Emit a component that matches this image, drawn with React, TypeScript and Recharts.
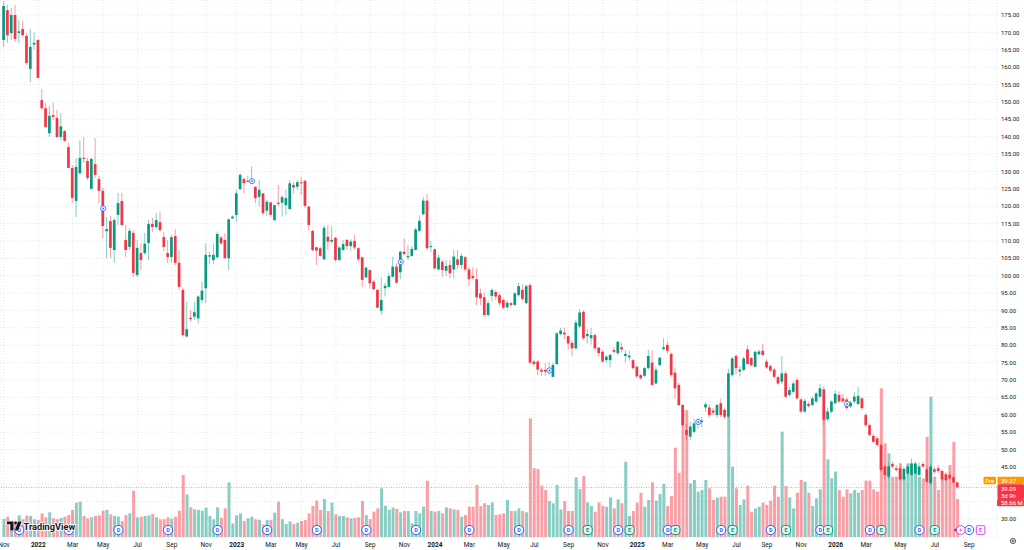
import React from 'react';
import { ComposedChart, Bar, XAxis, YAxis, CartesianGrid, ReferenceLine, Scatter } from 'recharts';

// ---- data (weekly candles, first bar = week of 1 Nov 2021) ----
const openP = [
  167.8, 176.4, 169.8, 175.0, 169.8, 171.0, 169.0, 159.5, 166.5, 167.8,
  150.5, 148.2, 141.0, 146.2, 145.4, 139.9, 141.6, 137.0, 131.0, 121.5,
  129.5, 133.9, 133.0, 125.0, 132.1, 127.8, 124.4, 112.8, 115.7, 107.4,
  117.5, 121.5, 110.3, 108.3, 112.3, 100.2, 106.5, 106.5, 109.4, 114.9,
  114.0, 115.4, 111.1, 106.5, 105.4, 111.4, 103.7, 95.9, 82.5, 87.9,
  88.2, 87.7, 93.0, 96.4, 105.5, 104.5, 105.3, 111.0, 110.3, 105.0,
  116.5, 117.5, 124.9, 127.8, 127.0, 126.9, 125.6, 122.7, 123.7, 118.7,
  121.1, 116.0, 121.0, 121.0, 120.3, 119.2, 126.1, 125.6, 126.9, 127.3,
  119.9, 112.9, 108.2, 107.9, 104.7, 111.2, 109.8, 110.9, 104.5, 107.4,
  110.3, 108.5, 110.0, 107.9, 105.3, 99.5, 101.6, 98.3, 95.9, 89.9,
  96.4, 96.8, 99.7, 102.6, 101.0, 106.9, 105.3, 105.7, 107.4, 112.9,
  117.7, 121.6, 108.2, 107.6, 101.8, 104.0, 101.4, 103.1, 101.8, 104.7,
  103.1, 105.3, 101.8, 99.9, 99.0, 94.9, 93.8, 88.7, 94.2, 95.3,
  94.4, 93.0, 90.9, 92.1, 91.6, 94.4, 95.9, 92.1, 97.3, 75.3,
  75.3, 72.9, 72.9, 72.5, 70.9, 74.6, 83.2, 83.6, 82.6, 80.7,
  79.1, 85.4, 89.6, 82.6, 82.0, 82.9, 79.3, 78.1, 75.7, 75.7,
  78.6, 77.7, 79.4, 76.9, 76.5, 75.7, 73.8, 71.4, 71.2, 73.4,
  75.0, 69.0, 74.3, 78.9, 80.1, 77.5, 72.1, 68.6, 62.8, 55.6,
  53.7, 55.1, 57.8, 57.9, 62.1, 62.1, 61.2, 59.9, 63.3, 61.4,
  59.4, 71.4, 76.9, 72.4, 72.9, 78.8, 76.3, 73.8, 77.4, 78.4,
  75.3, 74.0, 73.0, 70.8, 69.5, 71.9, 65.7, 66.6, 70.0, 64.4,
  60.9, 63.1, 62.8, 63.8, 65.2, 67.3, 58.7, 60.9, 63.3, 65.7,
  64.7, 64.4, 62.4, 63.8, 63.1, 64.7, 59.9, 57.0, 53.9, 53.2,
  51.3, 45.1, 42.2, 45.8, 44.6, 44.6, 41.4, 43.1, 42.7, 43.1,
  42.7, 45.8, 44.3, 40.3, 44.3, 44.6, 43.8, 42.9, 42.7, 42.0,
  40.5,
];
const highP = [
  179.0, 177.9, 177.0, 177.9, 173.6, 173.3, 169.8, 171.0, 170.0, 168.1,
  153.7, 149.7, 148.8, 149.7, 147.7, 146.8, 141.9, 138.2, 131.8, 133.9,
  139.0, 139.9, 133.9, 133.9, 139.6, 128.7, 125.3, 116.9, 117.2, 116.6,
  123.8, 123.8, 114.6, 113.7, 113.1, 110.3, 109.4, 112.3, 116.0, 116.6,
  118.0, 118.3, 112.6, 110.3, 111.7, 113.4, 107.4, 96.5, 92.5, 90.1,
  92.5, 94.4, 98.3, 109.3, 106.9, 109.3, 112.7, 111.4, 112.2, 116.5,
  117.3, 124.7, 129.5, 128.3, 128.8, 131.4, 125.6, 127.5, 123.7, 121.8,
  121.1, 120.5, 126.1, 123.2, 124.7, 127.5, 127.0, 127.5, 128.5, 127.5,
  119.9, 113.1, 108.3, 108.3, 114.6, 114.6, 114.2, 111.2, 108.5, 110.3,
  110.5, 110.5, 111.7, 108.2, 105.5, 102.6, 101.8, 98.8, 96.1, 99.5,
  98.0, 100.9, 105.5, 103.6, 107.2, 110.7, 108.8, 108.5, 113.8, 117.3,
  122.7, 123.5, 109.9, 107.8, 106.0, 104.5, 104.5, 104.5, 107.4, 107.4,
  106.5, 105.7, 102.4, 102.4, 102.1, 96.3, 95.1, 92.9, 96.3, 95.9,
  95.1, 93.5, 93.0, 92.5, 95.3, 98.0, 97.5, 97.5, 97.8, 75.6,
  75.8, 73.5, 75.0, 75.0, 75.0, 83.8, 85.0, 85.1, 82.9, 81.4,
  87.3, 90.4, 90.0, 84.7, 85.0, 83.4, 79.5, 78.6, 77.2, 77.6,
  79.5, 81.2, 80.8, 78.6, 78.4, 76.0, 74.2, 71.8, 73.8, 78.7,
  78.5, 73.8, 76.7, 82.0, 81.2, 78.0, 73.5, 69.2, 63.0, 57.5,
  57.9, 58.8, 59.0, 59.3, 63.5, 63.0, 62.0, 63.2, 64.6, 62.0,
  73.2, 76.7, 77.4, 74.0, 76.7, 79.9, 76.6, 78.5, 78.8, 80.4,
  76.0, 74.5, 73.5, 71.2, 76.9, 72.5, 68.0, 69.6, 70.6, 64.8,
  64.6, 63.6, 65.2, 66.6, 68.9, 68.2, 62.0, 64.1, 67.0, 66.7,
  66.0, 65.0, 64.0, 66.5, 68.0, 65.2, 60.5, 57.5, 54.5, 53.8,
  51.8, 45.5, 46.0, 46.5, 45.5, 45.0, 45.0, 45.6, 47.4, 46.5,
  46.2, 46.5, 45.1, 46.0, 45.0, 45.5, 44.3, 43.5, 43.4, 42.5,
  40.8,
];
const lowP = [
  165.8, 167.0, 167.8, 167.2, 167.0, 168.7, 160.6, 155.7, 165.0, 156.9,
  147.7, 142.5, 140.0, 144.8, 139.6, 139.0, 138.5, 131.0, 120.9, 116.9,
  129.0, 132.4, 127.5, 124.7, 128.1, 120.9, 110.8, 105.0, 105.0, 103.7,
  114.6, 114.3, 105.4, 107.4, 99.6, 99.6, 101.6, 106.0, 104.5, 112.6,
  113.4, 112.6, 107.1, 103.7, 103.7, 103.1, 95.9, 82.5, 82.2, 86.8,
  87.3, 86.3, 92.1, 92.1, 103.3, 103.3, 105.0, 108.8, 105.0, 101.6,
  116.3, 115.5, 124.7, 123.7, 126.9, 126.5, 120.8, 119.9, 117.5, 117.2,
  117.0, 115.7, 119.9, 117.0, 117.5, 118.9, 123.7, 124.7, 123.2, 119.4,
  113.1, 106.9, 103.1, 105.5, 104.5, 107.4, 109.3, 104.0, 104.2, 107.1,
  107.4, 107.1, 107.4, 104.0, 96.8, 99.3, 96.4, 95.9, 90.6, 88.7,
  94.0, 96.4, 99.5, 97.8, 99.0, 106.0, 104.5, 105.5, 107.2, 112.6,
  117.3, 107.4, 106.8, 101.9, 101.5, 99.7, 99.9, 99.3, 99.3, 101.9,
  101.9, 101.2, 97.0, 98.8, 91.6, 91.6, 88.2, 88.2, 92.6, 93.0,
  91.3, 90.3, 90.5, 91.0, 91.2, 94.0, 92.8, 91.8, 74.5, 74.0,
  71.4, 71.2, 71.2, 71.5, 70.9, 74.3, 82.8, 81.8, 78.8, 76.8,
  78.9, 84.9, 81.5, 80.4, 80.2, 78.6, 76.8, 75.0, 75.0, 73.6,
  77.6, 77.2, 77.9, 75.0, 75.5, 73.0, 70.5, 70.0, 70.9, 73.0,
  68.3, 68.7, 73.8, 78.6, 77.6, 71.0, 64.7, 62.5, 56.5, 52.7,
  52.6, 54.6, 56.0, 56.4, 60.8, 59.2, 59.9, 59.2, 59.2, 58.8,
  59.0, 70.9, 71.6, 71.0, 72.4, 74.3, 73.8, 73.5, 77.0, 76.9,
  73.2, 72.2, 70.5, 68.6, 68.8, 64.8, 65.2, 66.1, 64.3, 60.4,
  60.5, 62.0, 62.4, 63.3, 64.8, 57.0, 58.1, 60.5, 63.0, 63.3,
  63.5, 61.5, 62.0, 63.3, 62.7, 61.4, 56.5, 53.8, 51.8, 50.8,
  43.5, 41.5, 41.5, 44.5, 43.6, 41.0, 41.0, 42.5, 42.4, 42.8,
  42.4, 44.7, 40.2, 39.8, 43.0, 43.3, 41.0, 40.8, 41.3, 40.2,
  38.8,
];
const closeP = [
  177.6, 169.2, 175.0, 168.1, 170.3, 169.2, 161.2, 165.8, 167.0, 156.9,
  148.2, 142.8, 146.0, 145.7, 139.9, 143.0, 138.8, 131.0, 122.4, 131.3,
  133.9, 133.6, 128.1, 133.6, 129.0, 124.4, 114.3, 113.4, 108.0, 116.0,
  120.9, 114.6, 107.4, 112.9, 100.8, 108.0, 104.5, 109.2, 114.9, 114.0,
  116.0, 113.1, 108.3, 105.4, 111.1, 103.7, 96.8, 82.9, 84.6, 87.5,
  89.5, 94.0, 95.7, 106.0, 105.9, 106.0, 112.0, 109.3, 105.0, 116.2,
  117.0, 123.7, 129.0, 126.6, 127.3, 127.5, 122.3, 124.7, 118.0, 121.3,
  117.5, 120.3, 120.6, 122.6, 122.3, 126.6, 125.4, 126.9, 126.6, 120.1,
  114.6, 107.4, 107.2, 105.7, 113.8, 109.8, 110.3, 104.5, 108.1, 109.1,
  108.5, 109.8, 108.1, 104.7, 98.8, 102.3, 97.8, 96.1, 90.8, 93.0,
  97.1, 99.9, 102.6, 98.0, 106.9, 106.2, 105.7, 107.7, 113.3, 115.8,
  121.6, 107.9, 108.5, 102.1, 105.2, 101.6, 102.8, 100.7, 105.5, 103.1,
  105.7, 101.8, 99.0, 99.3, 93.8, 93.5, 88.7, 92.1, 95.9, 94.0,
  92.1, 90.8, 92.2, 91.6, 94.9, 97.0, 93.3, 97.0, 75.0, 74.6,
  73.0, 72.4, 72.4, 73.0, 74.3, 83.4, 84.2, 83.1, 80.5, 79.1,
  86.5, 89.4, 82.0, 83.2, 82.9, 79.1, 77.7, 75.3, 76.7, 77.2,
  78.1, 81.0, 78.8, 77.5, 77.0, 73.4, 71.0, 70.5, 73.4, 76.9,
  68.6, 72.9, 76.4, 79.4, 78.4, 71.4, 67.6, 62.8, 57.0, 54.2,
  56.6, 57.5, 58.0, 58.3, 63.0, 59.9, 60.6, 62.8, 59.9, 59.4,
  71.9, 76.2, 73.4, 73.0, 76.2, 74.6, 74.3, 78.1, 78.2, 77.2,
  73.6, 72.7, 70.9, 69.0, 71.9, 65.2, 67.1, 69.0, 64.7, 60.9,
  64.0, 62.5, 64.7, 66.1, 67.6, 58.5, 60.9, 63.8, 66.0, 63.8,
  63.8, 61.9, 63.5, 65.2, 65.4, 61.9, 57.0, 54.2, 52.2, 51.3,
  44.1, 42.7, 45.1, 45.1, 44.1, 41.4, 44.4, 45.1, 46.0, 46.0,
  45.1, 45.1, 40.7, 45.1, 43.6, 43.8, 41.4, 41.2, 41.7, 40.5,
  39.09,
];
// volume in millions
const volumeM = [
  27.8, 31.4, 25, 24, 33.4, 27.3, 32.9, 32.4, 27.3, 26.2,
  36.5, 30.3, 38.1, 28.8, 27.3, 29.3, 31.4, 33.9, 41.7, 53,
  54.5, 32.4, 28.8, 30.3, 32.4, 33.4, 40.6, 41.7, 34.9, 32.4,
  31.4, 24.7, 33.9, 36.5, 71.5, 30.3, 31.4, 32.4, 33.4, 35.5,
  30.3, 27.3, 27.3, 30.3, 28.3, 31.4, 40.6, 95.7, 65.8, 45.8,
  42.7, 41.7, 40.6, 45.3, 32.4, 27.3, 45.8, 29.8, 44.2, 84.3,
  21, 33.4, 36.5, 24.7, 28.8, 31.4, 27.3, 26.2, 19.5, 26.2,
  26.2, 37.6, 54.5, 27.3, 20.1, 24, 20.1, 22.1, 24.7, 26.2,
  36.5, 47.8, 56.1, 41.7, 58.6, 40.1, 53, 34.9, 32.4, 32.4,
  30.3, 28.8, 29.3, 30.3, 55.5, 33.9, 27.3, 39.1, 44.2, 75.1,
  48.4, 42, 45.5, 43.5, 38.1, 40.1, 40.1, 21.1, 40.1, 36.5,
  46.8, 86.9, 40.1, 39.1, 40.1, 36.5, 45.8, 44.2, 42.7, 41.7,
  31.4, 33.9, 46.8, 46.8, 80.2, 47.8, 52, 49.4, 53.5, 33.9,
  35, 36.5, 57.1, 40.1, 40.1, 44.2, 40.1, 38.1, 183.1, 106,
  104.9, 79.2, 72.5, 55.5, 52, 80.2, 42.7, 55.5, 40.1, 40.1,
  92.1, 74.1, 94.1, 53.5, 47.8, 39.1, 53.5, 48.3, 46.8, 61.2,
  44.2, 58.1, 52, 116.3, 32.4, 40.1, 53, 68.4, 46.8, 57.1,
  84.3, 56.1, 66.3, 81.8, 47.8, 63.2, 137.9, 99.3, 196, 196,
  82.8, 88, 70, 72.5, 88, 75.1, 57.1, 60.7, 62.2, 62.2,
  185, 108.5, 75.1, 49.4, 58.1, 79.2, 39.1, 44.2, 46.8, 53,
  49.4, 56.1, 79.2, 62.2, 162.5, 78.7, 61.2, 44.2, 68.4, 88,
  85.4, 68.4, 47.8, 59.7, 73.6, 196, 119.8, 90.5, 100.8, 72.5,
  62.2, 73.6, 67.4, 72.5, 68.4, 72.5, 86.9, 86.9, 73.6, 70,
  229.4, 144.5, 129.1, 93.1, 93.1, 113.7, 93.1, 113.7, 98.2, 111.1,
  93.1, 90.5, 154.8, 216.5, 93.1, 72.5, 93.1, 93.1, 111.1, 147,
  58.66,
];

// x-axis ticks: first weekly bar of each labelled month
const monthTickIdx = [0, 9, 18, 26, 35, 44, 53, 61, 70, 78, 87, 96, 105, 113, 122, 131, 139, 148, 157, 166, 174, 183, 192, 200, 209, 218, 226, 235, 244, 253];
const monthTickLbl = ['Nov', '2022', 'Mar', 'May', 'Jul', 'Sep', 'Nov', '2023', 'Mar', 'May', 'Jul', 'Sep', 'Nov', '2024', 'Mar', 'May', 'Jul', 'Sep', 'Nov', '2025', 'Mar', 'May', 'Jul', 'Sep', 'Nov', '2026', 'Mar', 'May', 'Jul', 'Sep'];
const priceTicks = [30, 35, 40, 45, 50, 55, 60, 65, 70, 75, 80, 85, 90, 95, 100, 105, 110, 115, 120, 125, 130, 135, 140, 145, 150, 155, 160, 165, 170, 175];
const hiddenPriceLabels = [35, 40];

// event badges (bar index)
const dividendIdx = [4, 17, 30, 43, 56, 69, 82, 95, 108, 122, 135, 148, 161, 174, 188, 201, 214, 227, 240, 253];
const earningsIdx = [153, 164, 176, 191, 205, 216, 230, 244];
const futureEarningsIdx = [256];
const splitIdx = [26, 65, 104, 143, 182, 221];
const starIdx = [249.6];
const flashIdx = [250.8];

const lastPrice = 39.09;
const prePrice = 39.37;
const countdown = '3d 9h';
const lastVolumeLabel = '58.66 M';

const UP = '#089981';
const DOWN = '#f23645';
const FONT = "Roboto, 'DejaVu Sans', Arial, sans-serif";
const BADGE_LEVEL = 10.8;

const data = openP.map((o, i) => ({
  i,
  open: o,
  high: highP[i],
  low: lowP[i],
  close: closeP[i],
  range: [lowP[i], highP[i]],
  volume: volumeM[i],
  up: closeP[i] >= o,
}));

const splitData = splitIdx.map((i) => ({ i, mid: (openP[i] + closeP[i]) / 2 }));
const dData = dividendIdx.map((i) => ({ i, lvl: BADGE_LEVEL }));
const eData = earningsIdx.map((i) => ({ i, lvl: BADGE_LEVEL }));
const feData = futureEarningsIdx.map((i) => ({ i, lvl: BADGE_LEVEL }));
const starData = starIdx.map((i) => ({ i, lvl: BADGE_LEVEL }));
const flashData = flashIdx.map((i) => ({ i, lvl: BADGE_LEVEL }));

const Candle = (props: any) => {
  const { x, y, width, height, payload } = props;
  if (!payload || x == null || y == null) return null;
  const top = Math.min(y, y + height);
  const bot = Math.max(y, y + height);
  const span = payload.high - payload.low;
  const toY = (p: number) => (span > 0 ? top + ((payload.high - p) / span) * (bot - top) : top);
  const cx = x + width / 2;
  const oy = toY(payload.open);
  const cy = toY(payload.close);
  const color = payload.up ? UP : DOWN;
  const bt = Math.min(oy, cy);
  const bh = Math.max(1, Math.abs(oy - cy));
  return (
    <g>
      <line x1={cx} x2={cx} y1={top} y2={bot} stroke={color} strokeWidth={0.9} strokeOpacity={0.55} />
      <rect x={cx - 1.35} y={bt} width={2.7} height={bh} fill={color} />
    </g>
  );
};

const VolBar = (props: any) => {
  const { x, y, width, height, payload } = props;
  if (!payload || x == null || y == null) return null;
  const cx = x + width / 2;
  const top = Math.min(y, y + height);
  const h = Math.abs(height);
  return <rect x={cx - 1.5} y={top} width={3} height={h} fill={payload.up ? UP : DOWN} fillOpacity={0.48} />;
};

const XTick = (props: any) => {
  const { x, y, payload } = props;
  const k = monthTickIdx.indexOf(payload.value);
  const label = k >= 0 ? monthTickLbl[k] : '';
  const isYear = /^\d{4}$/.test(label);
  return (
    <text x={x} y={y} dy="0.71em" textAnchor="middle" fontSize={6.5} fontWeight={isYear ? 700 : 400} fill="#131722" fontFamily={FONT}>
      {label}
    </text>
  );
};

const DBadge = (props: any) => {
  const { cx, cy } = props;
  if (cx == null) return null;
  return (
    <g>
      <circle cx={cx} cy={cy} r={4.6} fill="#fff" stroke="#2962ff" strokeWidth={1} />
      <text x={cx} y={cy} dy="0.36em" textAnchor="middle" fontSize={5.5} fontWeight={700} fill="#2962ff" fontFamily={FONT}>D</text>
    </g>
  );
};
const EBadge = (props: any) => {
  const { cx, cy } = props;
  if (cx == null) return null;
  return (
    <g>
      <rect x={cx - 4.5} y={cy - 4.5} width={9} height={9} rx={3} fill="#e3f4f0" stroke={UP} strokeWidth={1} />
      <text x={cx} y={cy} dy="0.36em" textAnchor="middle" fontSize={5.5} fontWeight={700} fill={UP} fontFamily={FONT}>E</text>
    </g>
  );
};
const FEBadge = (props: any) => {
  const { cx, cy } = props;
  if (cx == null) return null;
  return (
    <g>
      <rect x={cx - 4.3} y={cy - 4.3} width={8.6} height={8.6} rx={1} fill="#fff" stroke="#e040fb" strokeWidth={1} />
      <text x={cx} y={cy} dy="0.36em" textAnchor="middle" fontSize={5.5} fontWeight={700} fill="#e040fb" fontFamily={FONT}>E</text>
    </g>
  );
};
const StarBadge = (props: any) => {
  const { cx, cy } = props;
  if (cx == null) return null;
  return <path d={`M${cx},${cy - 2.5} L${cx + 0.8},${cy - 0.8} L${cx + 2.5},${cy} L${cx + 0.8},${cy + 0.8} L${cx},${cy + 2.5} L${cx - 0.8},${cy + 0.8} L${cx - 2.5},${cy} L${cx - 0.8},${cy - 0.8} Z`} fill="#311b92" />;
};
const FlashBadge = (props: any) => {
  const { cx, cy } = props;
  if (cx == null) return null;
  return (
    <g>
      <circle cx={cx} cy={cy} r={4.4} fill="#fff" stroke="#e040fb" strokeWidth={1} />
      <path d={`M${cx + 1},${cy - 2.8} L${cx - 1.6},${cy + 0.4} L${cx},${cy + 0.4} L${cx - 1},${cy + 2.8} L${cx + 1.6},${cy - 0.6} L${cx},${cy - 0.6} Z`} fill="#e040fb" />
    </g>
  );
};
const SplitMark = (props: any) => {
  const { cx, cy } = props;
  if (cx == null) return null;
  return (
    <g>
      <circle cx={cx} cy={cy} r={2.6} fill="#fff" stroke="#2962ff" strokeWidth={0.8} />
      <circle cx={cx} cy={cy} r={0.9} fill="#2962ff" />
    </g>
  );
};

const PriceTags = (props: any) => {
  const { viewBox } = props;
  if (!viewBox) return null;
  const y = viewBox.y;
  const xr = viewBox.x + viewBox.width;
  return (
    <g fontFamily={FONT} fontSize={6}>
      <rect x={xr - 13.5} y={y - 10.7} width={12.5} height={7.6} rx={1.2} fill="#ff9800" />
      <text x={xr - 7.25} y={y - 6.9} dy="0.35em" textAnchor="middle" fill="#fff">Pre</text>
      <rect x={xr + 0.5} y={y - 10.7} width={26.5} height={7.6} rx={1.2} fill="#ff9800" />
      <text x={xr + 4} y={y - 6.9} dy="0.35em" fill="#fff">{prePrice.toFixed(2)}</text>
      <rect x={xr + 0.5} y={y - 3.1} width={26.5} height={14.6} rx={1.2} fill={DOWN} />
      <text x={xr + 4} y={y + 1} dy="0.35em" fill="#fff">{lastPrice.toFixed(2)}</text>
      <text x={xr + 4} y={y + 8} dy="0.35em" fill="#fff">{countdown}</text>
      <rect x={xr} y={y + 11.5} width={27} height={7.4} rx={1.2} fill="#ea3e4b" />
      <text x={xr + 4} y={y + 15.2} dy="0.35em" fill="#fff">{lastVolumeLabel}</text>
    </g>
  );
};

export default function App() {
  return (
    <div style={{ position: 'absolute', left: 0, top: 0, width: 1024, height: 550, background: '#fff' }}>
      <ComposedChart width={1024} height={550} data={data} margin={{ top: 0, right: 0, bottom: 0, left: 0 }}>
        <XAxis
          xAxisId="p"
          type="number"
          dataKey="i"
          domain={[-1.05, 260.3]}
          ticks={monthTickIdx}
          interval={0}
          height={13}
          axisLine={false}
          tickLine={false}
          tickSize={0}
          tickMargin={5}
          tick={<XTick />}
          allowDataOverflow
        />
        <XAxis xAxisId="v" type="number" dataKey="i" domain={[-1.05, 260.3]} hide allowDataOverflow />
        <YAxis
          yAxisId="price"
          orientation="right"
          type="number"
          domain={[24.82, 179.32]}
          ticks={priceTicks}
          interval={0}
          width={27}
          axisLine={false}
          tickLine={false}
          tickSize={0}
          tickMargin={4}
          tickFormatter={(v: number) => (hiddenPriceLabels.includes(v) ? '' : v.toFixed(2))}
          tick={{ fontSize: 6, fill: '#131722', fontFamily: FONT }}
          allowDataOverflow
        />
        <YAxis yAxisId="vol" type="number" domain={[0, 828.7]} hide allowDataOverflow />
        <CartesianGrid xAxisId="p" yAxisId="price" stroke="#e4e7ee" strokeDasharray="1 2" />
        <Bar xAxisId="v" yAxisId="vol" dataKey="volume" barSize={3} shape={<VolBar />} isAnimationActive={false} />
        <ReferenceLine
          xAxisId="p"
          yAxisId="price"
          y={lastPrice}
          stroke="#f59aa2"
          strokeWidth={1}
          strokeDasharray="1 1.5"
          label={<PriceTags />}
        />
        <Bar xAxisId="p" yAxisId="price" dataKey="range" barSize={3} shape={<Candle />} isAnimationActive={false} />
        <Scatter xAxisId="p" yAxisId="price" data={splitData} dataKey="mid" shape={<SplitMark />} isAnimationActive={false} />
        <Scatter xAxisId="v" yAxisId="vol" data={dData} dataKey="lvl" shape={<DBadge />} isAnimationActive={false} />
        <Scatter xAxisId="v" yAxisId="vol" data={eData} dataKey="lvl" shape={<EBadge />} isAnimationActive={false} />
        <Scatter xAxisId="v" yAxisId="vol" data={feData} dataKey="lvl" shape={<FEBadge />} isAnimationActive={false} />
        <Scatter xAxisId="v" yAxisId="vol" data={starData} dataKey="lvl" shape={<StarBadge />} isAnimationActive={false} />
        <Scatter xAxisId="v" yAxisId="vol" data={flashData} dataKey="lvl" shape={<FlashBadge />} isAnimationActive={false} />
      </ComposedChart>
      <svg width={1024} height={550} style={{ position: 'absolute', left: 0, top: 0, pointerEvents: 'none' }}>
        <g>
          <path d="M7,521.5 H13.5 V530.5 H10.3 V524.3 H7 Z" fill="#131722" stroke="#fff" strokeWidth={0.8} paintOrder="stroke" />
          <circle cx={15.6} cy={523} r={1.4} fill="#131722" />
          <path d="M18,521.5 H21.6 L18.2,530.5 H14.8 Z" fill="#131722" stroke="#fff" strokeWidth={0.8} paintOrder="stroke" />
          <text x={23.5} y={530.3} fontSize={9.2} fontWeight={700} fill="#131722" fontFamily={FONT} stroke="#fff" strokeWidth={1.6} paintOrder="stroke">TradingView</text>
        </g>
        <g stroke="#131722" strokeWidth={0.7} fill="none">
          <circle cx={1013} cy={541} r={2.6} />
          <circle cx={1013} cy={541} r={0.9} />
        </g>
      </svg>
    </div>
  );
}
